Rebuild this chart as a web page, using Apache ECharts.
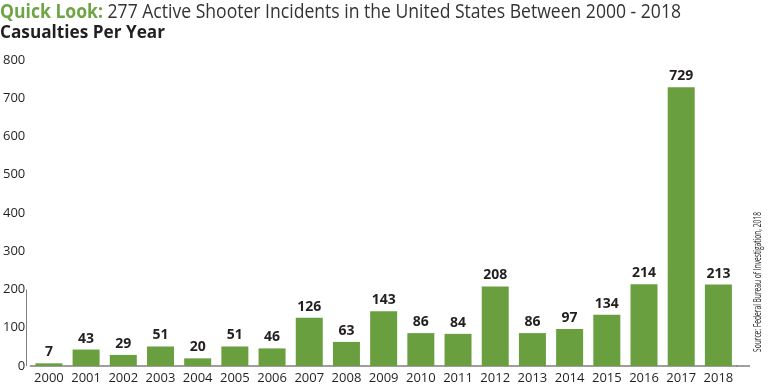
<!DOCTYPE html>
<html><head><meta charset="utf-8">
<script src="https://cdn.jsdelivr.net/npm/echarts@6/dist/echarts.min.js"></script>
<style>html,body{margin:0;padding:0;background:#fff}#c{width:768px;height:385px}</style>
</head><body><div id="c"></div>
<script>
const years = ['2000','2001','2002','2003','2004','2005','2006','2007','2008','2009','2010','2011','2012','2013','2014','2015','2016','2017','2018'];
const casualties = [7,43,29,51,20,51,46,126,63,143,86,84,208,86,97,134,214,729,213];
const yTicks = [0,100,200,300,400,500,600,700,800];
const titleLead = 'Quick Look:';
const titleRest = ' 277 Active Shooter Incidents in the United States Between 2000 - 2018';
const subtitle = 'Casualties Per Year';
const source = 'Source: Federal Bureau of Investigation, 2018';

const chart = echarts.init(document.getElementById('c'));
const font = '"Open Sans", sans-serif';
chart.setOption({
  animation: false,
  grid: { left: 26, right: 31, top: 60, bottom: 19 },
  xAxis: {
    type: 'category', data: years,
    axisLine: { show: true, lineStyle: { color: '#7f7f7f', width: 1.5 } },
    axisTick: { show: false },
    axisLabel: { interval: 0, fontFamily: font, fontSize: 13, color: '#231f20', margin: 6 }
  },
  yAxis: {
    type: 'value', min: 0, max: 800, interval: 100,
    axisLine: { show: false }, axisTick: { show: false },
    splitLine: { show: false },
    axisLabel: { fontFamily: font, fontSize: 13, color: '#231f20', margin: 5,
      formatter: v => yTicks.includes(v) ? String(v) : '' }
  },
  series: [{
    type: 'bar', data: casualties, barWidth: 27,
    itemStyle: { color: '#6a9f3f' },
    label: { show: true, position: 'top', distance: 4, fontFamily: font, fontSize: 14, fontWeight: 'bold', color: '#231f20' }
  }]
});
// measure title width to condense it like the original
const cv = document.createElement('canvas').getContext('2d');
cv.font = 'bold 20px "Open Sans"';
const wA = cv.measureText(titleLead).width;
cv.font = '20px "Open Sans"';
const wB = cv.measureText(titleRest).width;
const titleScale = 681 / (wA + wB);
cv.font = '10px "Open Sans"';
const srcScale = 140 / cv.measureText(source).width;
cv.font = 'bold 18px "Open Sans"';
const subScale = 165 / cv.measureText(subtitle).width;

const p0 = chart.convertToPixel({gridIndex:0}, [0, 0]);
const p200 = chart.convertToPixel({gridIndex:0}, [0, 200]);
chart.setOption({
  graphic: [{
    type: 'text', x: 0, y: 12, scaleX: titleScale,
    style: { text: '{a|' + titleLead + '}{b|' + titleRest + '}', verticalAlign: 'middle',
      rich: {
        a: { fontFamily: font, fontSize: 20, fontWeight: 'bold', fill: '#6ea544' },
        b: { fontFamily: font, fontSize: 20, fontWeight: 'normal', fill: '#333333' }
      } }
  }, {
    type: 'text', x: 0, y: 33, scaleX: subScale,
    style: { text: subtitle, fontFamily: font, fontSize: 18, fontWeight: 'bold', fill: '#231f20', verticalAlign: 'middle' }
  }, {
    type: 'line', shape: { x1: 26.5, y1: p200[1], x2: 26.5, y2: p0[1] },
    style: { stroke: '#7f7f7f', lineWidth: 1 }
  }, {
    type: 'line', shape: { x1: 736, y1: p0[1], x2: 750, y2: p0[1] },
    style: { stroke: '#7f7f7f', lineWidth: 1.5 }
  }, {
    type: 'text', x: 758, y: 282, rotation: Math.PI/2, scaleX: srcScale,
    style: { text: source, fontFamily: font, fontSize: 10, fill: '#231f20', align: 'center', verticalAlign: 'middle' }
  }]
});
</script></body></html>
